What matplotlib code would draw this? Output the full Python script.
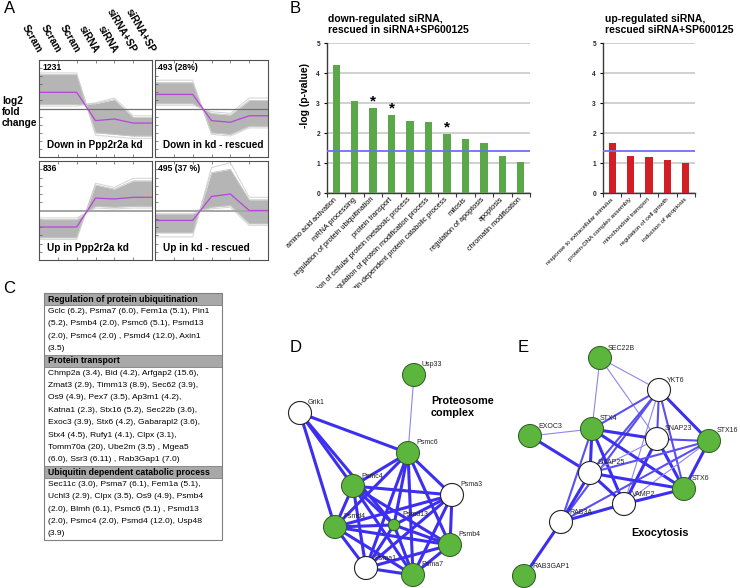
import matplotlib
matplotlib.use("Agg")
import matplotlib.pyplot as plt
from matplotlib.patches import Circle, Rectangle
from matplotlib.transforms import Bbox, TransformedBbox
import numpy as np

plt.rcParams['font.family'] = ['Liberation Sans', 'DejaVu Sans']

W, H = 740, 588

# ---------------- panel A: expression profiles (log2 fold change) ----------------
conditions = ["Scram", "Scram", "Scram", "siRNA", "siRNA", "siRNA+SP", "siRNA+SP"]
a_titles = ["Down in Ppp2r2a kd", "Down in kd - rescued", "Up in Ppp2r2a kd", "Up in kd - rescued"]
a_counts = ["1231", "493 (28%)", "836", "495 (37 %)"]
# purple median profile of each cluster
a_median = [
    [1.0, 1.0, 1.0, -0.75, -0.65, -0.9, -0.9],
    [0.87, 0.87, 0.87, -0.75, -0.85, -0.45, -0.45],
    [-1.0, -1.0, -1.0, 0.75, 0.7, 0.8, 0.8],
    [-0.6, -0.6, -0.6, 0.85, 1.0, 0.0, 0.0],
]
# outer gene profiles bounding the grey band (they cross between Scram and siRNA)
a_edge_one = [
    [2.1, 2.1, 2.1, -1.5, -1.6, -1.7, -1.7],
    [1.6, 1.6, 1.6, -1.5, -1.6, -1.1, -1.1],
    [-1.65, -1.65, -1.65, 1.55, 1.3, 1.8, 1.8],
    [-1.35, -1.35, -1.35, 2.3, 2.5, 0.65, 0.65],
]
a_edge_two = [
    [0.25, 0.25, 0.25, 0.3, 0.55, -0.55, -0.55],
    [0.3, 0.3, 0.3, -0.3, -0.4, 0.5, 0.5],
    [-0.55, -0.55, -0.55, 0.25, 0.2, 0.25, 0.25],
    [-0.2, -0.2, -0.2, 0.2, 0.3, -0.8, -0.8],
]
# faint outlier profiles
a_faint_one = [
    [2.2, 2.2, 2.2, -1.65, -1.75, -1.85, -1.85],
    [1.75, 1.75, 1.75, -1.6, -1.7, -1.2, -1.2],
    [-1.75, -1.75, -1.75, 1.65, 1.4, 1.95, 1.95],
    [-1.6, -1.6, -1.6, 2.6, 2.9, 0.8, 0.8],
]
a_faint_two = [
    [0.15, 0.15, 0.15, 0.35, 0.65, -0.45, -0.45],
    [0.2, 0.2, 0.2, -0.2, -0.3, 0.65, 0.65],
    [-0.45, -0.45, -0.45, 0.15, 0.1, 0.15, 0.15],
    [0.0, 0.0, 0.0, 0.1, 0.2, -0.9, -0.9],
]

# ---------------- panel B: GO enrichment ----------------
go_down_terms = ["amino acid activation", "mRNA processing", "regulation of protein ubiquitination",
                 "protein transport", "negative regulation of cellular protein metabolic process",
                 "negative regulation of protein modification process",
                 "ubiquitin-dependent protein catabolic process", "mitosis",
                 "regulation of apoptosis", "apoptosis", "chromatin modification"]
go_down_logp = [4.27, 3.08, 2.83, 2.6, 2.4, 2.36, 1.98, 1.79, 1.66, 1.23, 1.05]
go_down_star = [False, False, True, True, False, False, True, False, False, False, False]
go_up_terms = ["response to extracellular stimulus", "protein-DNA complex assembly",
               "mitochondrial transport", "regulation of cell growth", "induction of apoptosis"]
go_up_logp = [1.66, 1.24, 1.2, 1.11, 1.0]
threshold = 1.4

# ---------------- panel C: gene table ----------------
c_sections = [
    ("Regulation of protein ubiquitination", [
        "Gclc (6.2), Psma7 (6.0), Fem1a (5.1), Pin1",
        "(5.2), Psmb4 (2.0), Psmc6 (5.1), Psmd13",
        "(2.0), Psmc4 (2.0) , Psmd4 (12.0), Axin1",
        "(3.5)"]),
    ("Protein transport", [
        "Chmp2a (3.4), Bid (4.2), Arfgap2 (15.6),",
        "Zmat3 (2.9), Timm13 (8.9), Sec62 (3.9),",
        "Os9 (4.9), Pex7 (3.5), Ap3m1 (4.2),",
        "Katna1 (2.3), Stx16 (5.2), Sec22b (3.6),",
        "Exoc3 (3.9), Stx6 (4.2), Gabarapl2 (3.6),",
        "Stx4 (4.5), Rufy1 (4.1), Clpx (3.1),",
        "Tomm70a (20), Ube2m (3.5) , Mgea5",
        "(6.0), Ssr3 (6.11) , Rab3Gap1 (7.0)"]),
    ("Ubiquitin dependent catabolic process", [
        "Sec11c (3.0), Psma7 (6.1), Fem1a (5.1),",
        "Uchl3 (2.9), Clpx (3.5), Os9 (4.9), Psmb4",
        "(2.0), Blmh (6.1), Psmc6 (5.1) , Psmd13",
        "(2.0), Psmc4 (2.0), Psmd4 (12.0), Usp48",
        "(3.9)"]),
]

# ---------------- panel D / E: interaction networks (layout in pixels) ----------------
d_nodes = ["Usp33", "Grik1", "Psmc6", "Psmc4", "Psma3", "Psmd4", "Psmd13", "Psmb4", "Psma1", "Psma7"]
d_x = [414, 300, 408, 353, 452, 335, 394, 450, 366, 413]
d_y = [375, 413, 453, 486, 495, 527, 525, 545, 568, 575]
d_green = [True, False, True, True, False, True, True, True, False, True]
d_small = ["Psmd13"]
d_core = ["Psmc6", "Psmc4", "Psma3", "Psmd4", "Psmd13", "Psmb4", "Psma1", "Psma7"]
d_edges = [("Usp33", "Psmc6", 1), ("Grik1", "Psmc6", 3), ("Grik1", "Psmc4", 3),
           ("Grik1", "Psmd13", 3), ("Grik1", "Psmd4", 3)]
d_edges += [(a, b, 3) for i, a in enumerate(d_core) for b in d_core[i + 1:]]

e_nodes = ["SEC22B", "YKT6", "EXOC3", "STX4", "SNAP23", "STX16", "SNAP25", "STX6", "VAMP2", "RAB3A", "RAB3GAP1"]
e_x = [600, 659, 530, 592, 657, 709, 590, 684, 624, 561, 524]
e_y = [358, 390, 436, 429, 439, 441, 473, 489, 504, 522, 576]
e_green = [True, False, True, True, False, True, False, True, False, False, True]
e_edges = [("SEC22B", "YKT6", 1), ("SEC22B", "STX4", 1), ("SEC22B", "SNAP23", 1),
           ("YKT6", "STX4", 2), ("YKT6", "SNAP25", 2), ("YKT6", "RAB3A", 2), ("YKT6", "SNAP23", 2),
           ("YKT6", "STX16", 3), ("YKT6", "STX6", 2), ("YKT6", "VAMP2", 1),
           ("EXOC3", "STX4", 1), ("EXOC3", "SNAP25", 3),
           ("STX4", "SNAP23", 3), ("STX4", "STX6", 3), ("STX4", "SNAP25", 3), ("STX4", "VAMP2", 3),
           ("STX4", "RAB3A", 2),
           ("SNAP23", "STX16", 2), ("SNAP23", "STX6", 3), ("SNAP23", "VAMP2", 3), ("SNAP23", "SNAP25", 1),
           ("STX16", "STX6", 3), ("STX16", "SNAP25", 2), ("STX16", "VAMP2", 1), ("STX16", "RAB3A", 2),
           ("SNAP25", "STX6", 3), ("SNAP25", "VAMP2", 3), ("SNAP25", "RAB3A", 3),
           ("VAMP2", "STX6", 3), ("VAMP2", "RAB3A", 3), ("RAB3A", "RAB3GAP1", 3)]

fig = plt.figure(figsize=(W / 100, H / 100), dpi=100)


def px_axes(x0, y0, x1, y1):
    return fig.add_axes([x0 / W, 1 - y1 / H, (x1 - x0) / W, (y1 - y0) / H])


# ---- A
a_boxes = [(39, 60, 152, 157), (155, 60, 268, 157), (39, 161, 152, 260), (155, 161, 268, 260)]
xs = np.arange(len(conditions))
axes_a = []
for i, box in enumerate(a_boxes):
    ax = px_axes(*box)
    axes_a.append(ax)
    ax.plot(xs, a_faint_one[i], color="#d8d8d8", lw=0.8)
    ax.plot(xs, a_faint_two[i], color="#d8d8d8", lw=0.8)
    ax.fill_between(xs, a_edge_one[i], a_edge_two[i], color="#b5b5b5", lw=0)
    ax.plot(xs, a_edge_one[i], color="#c8c8c8", lw=0.6)
    ax.plot(xs, a_edge_two[i], color="#c8c8c8", lw=0.6)
    if i < 2:
        ax.axhline(0, color="#707070", lw=0.9)
    else:
        ax.axhline(0, color="#a5a5a5", lw=1.4)
    ax.plot(xs, a_median[i], color="#b446d8", lw=0.9)
    ax.set_xlim(0, 6)
    ax.set_ylim(-3, 3)
    ax.set_xticks(xs)
    ax.set_yticks(np.arange(-3, 3.01, 0.5))
    ax.tick_params(direction='in', length=2, width=0.5, colors="#555555", top=True, bottom=True,
                   left=True, right=False, labelleft=False, labelbottom=False)
    for s in ax.spines.values():
        s.set_color("#505050")
        s.set_linewidth(0.8)
    ax.text(0.03, 0.97, a_counts[i], transform=ax.transAxes, va='top', ha='left',
            fontsize=6.2, fontweight='bold')
    ax.text(0.07, 0.12, a_titles[i], transform=ax.transAxes, va='center', ha='left',
            fontsize=7.2, fontweight='bold')

for xi, lab in zip(xs, conditions):
    axes_a[0].text(xi + 0.05, 1.08, lab, transform=axes_a[0].get_xaxis_transform(), rotation=-60,
                   rotation_mode='anchor', ha='right', va='center', fontsize=7.2, fontweight='bold')
fig.text(2 / W, 1 - 112 / H, "log2\nfold\nchange", ha='left', va='center', fontsize=7.3,
         fontweight='bold', linespacing=1.15)

# ---- B
clip = TransformedBbox(Bbox([[240 / W, 1 - 288 / H], [1, 1]]), fig.transFigure)


def go_bars(ax, terms, vals, color, lab_size):
    pos = np.arange(len(terms))
    ax.bar(pos, vals, width=0.4, color=color, zorder=3)
    ax.axhline(threshold, color="#6f6ff5", lw=1.3, zorder=4)
    ax.set_xlim(-0.5, len(terms) - 0.5)
    ax.set_ylim(0, 5)
    ax.set_yticks(range(6))
    ax.yaxis.grid(True, color="#c3c3c3", lw=1.1)
    ax.set_axisbelow(True)
    for s in ["top", "right"]:
        ax.spines[s].set_visible(False)
    for s in ["left", "bottom"]:
        ax.spines[s].set_color("#3a3a3a")
        ax.spines[s].set_linewidth(1.0)
    ax.set_xticks(pos)
    ax.set_xticks(np.arange(-0.5, len(terms), 1), minor=True)
    ax.tick_params(axis='x', which='major', length=0, pad=4)
    ax.tick_params(axis='x', which='minor', length=3, width=0.8, color="#3a3a3a")
    ax.tick_params(axis='y', length=2, width=0.8, pad=3, labelsize=4.8, labelcolor="#1e2640")
    for t in ax.get_yticklabels():
        t.set_fontweight('bold')
    ax.set_xticklabels(terms, rotation=45, ha='right', va='center', rotation_mode='anchor',
                       fontsize=lab_size)
    for t in ax.get_xticklabels():
        t.set_clip_on(True)
        t.set_clip_box(clip)
    return pos


axb1 = px_axes(327, 43, 530, 193)
pos = go_bars(axb1, go_down_terms, go_down_logp, "#5aa84a", 5.3)
for p, v, s in zip(pos, go_down_logp, go_down_star):
    if s:
        axb1.text(p, v + 0.22, "*", ha='center', va='center', fontsize=11, fontweight='bold', zorder=5)

axb2 = px_axes(603, 43, 695, 193)
go_bars(axb2, go_up_terms, go_up_logp, "#d21f26", 4.5)

fig.text(305 / W, 1 - 96 / H, "-log (p-value)", rotation=90, ha='center', va='center',
         fontsize=7.5, fontweight='bold')
fig.text(328 / W, 1 - 14 / H, "down-regulated siRNA,\nrescued in siRNA+SP600125", ha='left', va='top',
         fontsize=7.5, fontweight='bold', linespacing=1.15)
fig.text(605 / W, 1 - 14 / H, "up-regulated siRNA,\nrescued siRNA+SP600125", ha='left', va='top',
         fontsize=7.5, fontweight='bold', linespacing=1.15)

# ---- overlay for C, D, E
ov = fig.add_axes([0, 0, 1, 1])
ov.set_xlim(0, W)
ov.set_ylim(H, 0)
ov.axis('off')

row_h = 12.35
tx0, tx1 = 44, 222
y = 293
for header, lines in c_sections:
    ov.add_patch(Rectangle((tx0, y), tx1 - tx0, row_h, facecolor="#a8a8a8", edgecolor="#808080", lw=0.6))
    ov.text(tx0 + 4, y + row_h / 2, header, fontsize=6.3, fontweight='bold', va='center', ha='left')
    y += row_h
    for ln in lines:
        ov.text(tx0 + 4, y + row_h / 2, ln, fontsize=6.1, va='center', ha='left')
        y += row_h
ov.add_patch(Rectangle((tx0, 293), tx1 - tx0, y - 293, facecolor='none', edgecolor="#808080", lw=0.8))

edge_style = {1: ("#8c86f3", 0.8), 2: ("#5a4ff0", 1.5), 3: ("#3c2ff0", 2.2)}


def draw_net(names, nx, ny, green, edges, r=11.5, small=()):
    idx = {n: i for i, n in enumerate(names)}
    for a, b, w in edges:
        c, lw = edge_style[w]
        ov.plot([nx[idx[a]], nx[idx[b]]], [ny[idx[a]], ny[idx[b]]], color=c, lw=lw,
                solid_capstyle='butt', zorder=2)
    for n, x0, y0, g in zip(names, nx, ny, green):
        rr = r / 2 if n in small else r
        if g:
            ov.add_patch(Circle((x0, y0), rr, facecolor="#5cb53c", edgecolor="#2d5a22", lw=0.7, zorder=3))
        else:
            ov.add_patch(Circle((x0, y0), rr, facecolor="white", edgecolor="#222222", lw=0.8, zorder=3))
        ov.text(x0 + 8, y0 - 10, n, fontsize=5, ha='left', va='center', zorder=4, color="#222222")


draw_net(d_nodes, d_x, d_y, d_green, d_edges, small=d_small)
draw_net(e_nodes, e_x, e_y, e_green, e_edges)
ov.text(431, 407, "Proteosome\ncomplex", fontsize=7.8, fontweight='bold', ha='left', va='center',
        linespacing=1.25)
ov.text(631, 533, "Exocytosis", fontsize=7.8, fontweight='bold', ha='left', va='center')

# panel letters
for lab, lx, ly in [("A", 4, 1), ("B", 290, 1), ("C", 3, 281), ("D", 290, 340), ("E", 518, 340)]:
    fig.text(lx / W, 1 - ly / H, lab, fontsize=12, ha='left', va='top')

fig.savefig("out.png", dpi=100)
